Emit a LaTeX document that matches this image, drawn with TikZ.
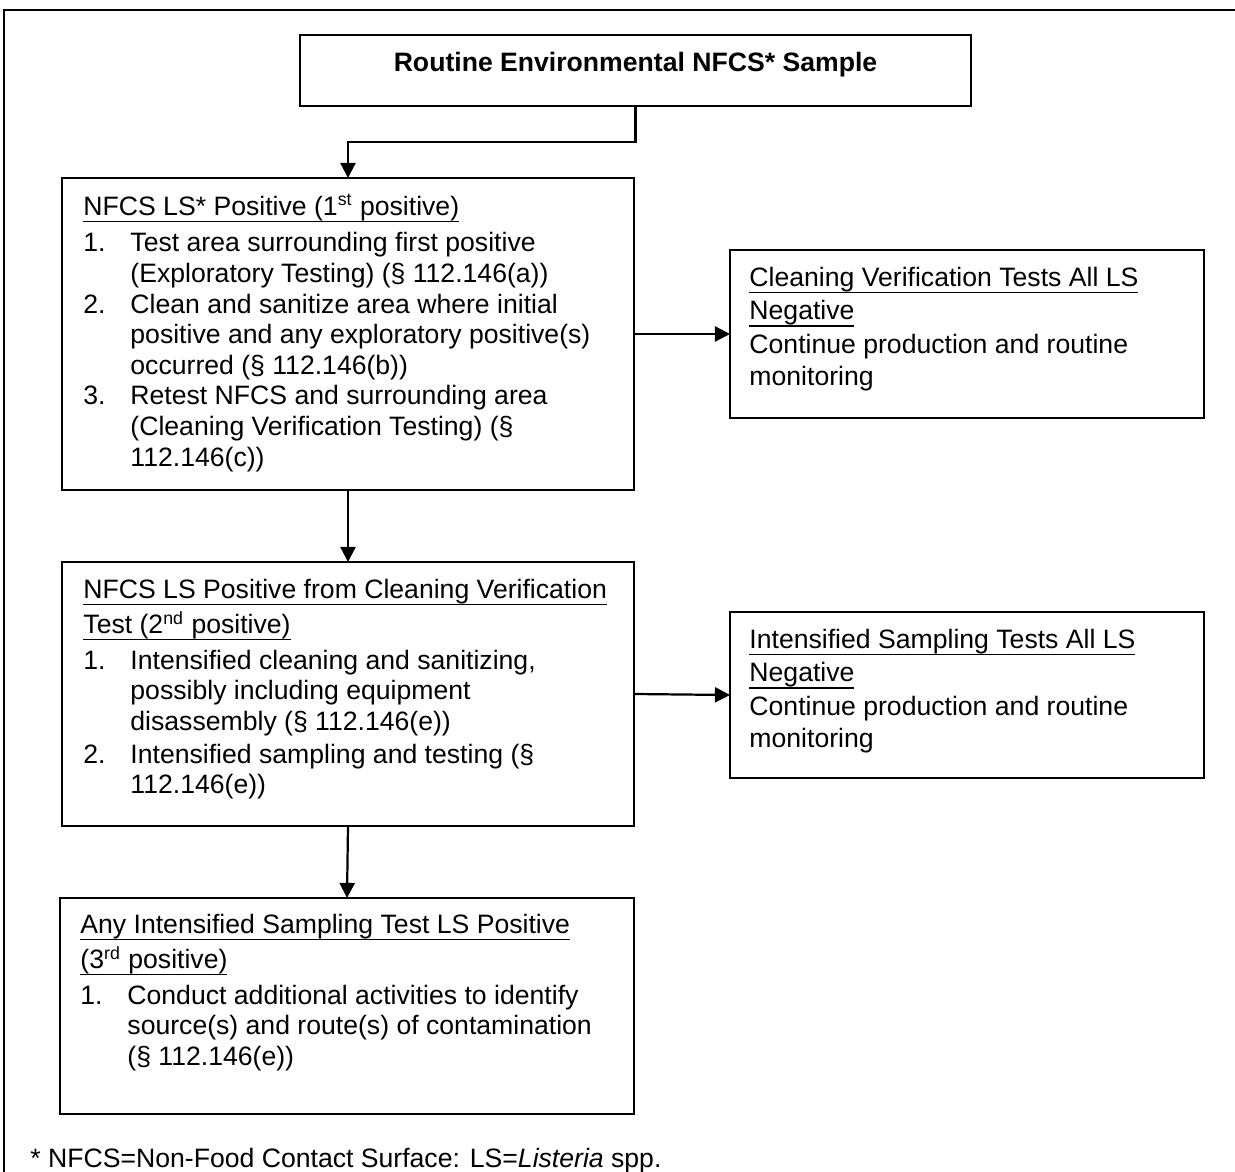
\documentclass[tikz,border=0pt]{standalone}
\usepackage{fontspec}
\setmainfont{Liberation Sans}
\usepackage{tikz}
\usetikzlibrary{
    positioning, % relative placement
    arrows.meta  % arrow tips
}
\tikzset{>={Triangle[length=6.8pt,width=6.8pt]}}

% heavier underline, sitting at descender depth
\newcommand{\ulabel}[1]{\setbox0\hbox{#1}\rlap{\rule[-3pt]{\wd0}{0.75pt}}\box0}

\begin{document}
\begin{tikzpicture}[x=0.451pt, y=-0.451pt,
    flowbox/.style={draw, line width=0.8pt, inner sep=0pt, outer sep=0pt, anchor=north west},
    boxtext/.style={anchor=north west, inner sep=0pt, align=left, font=\fontsize{12}{13.8}\selectfont},
    flowarrow/.style={->, line width=1pt}]
  % simple knobs
  \def\px{0.451pt}  % one pixel of the reference
  \def\ind{21.2pt}  % hanging indent of the numbered items
  \def\W{572}       % width of the left column boxes
  \def\Wr{474}      % width of the right column boxes

  \useasboundingbox (0,0) rectangle (1235,1172);

  % outer frame (runs off at right and bottom)
  \draw[line width=1pt] (4,1172) -- (4,10) -- (1235,10);

  % ===================== BOXES =====================
  \node[flowbox, minimum width=671*\px, minimum height=71*\px]  (top)  at (300,35)  {};
  \node[flowbox, minimum width=\W*\px,  minimum height=312*\px] (pos1) at (62,178)  {};
  \node[flowbox, minimum width=\Wr*\px, minimum height=168*\px] (neg1) at (730,250) {};
  \node[flowbox, minimum width=\W*\px,  minimum height=264*\px] (pos2) at (62,562)  {};
  \node[flowbox, minimum width=\Wr*\px, minimum height=166*\px] (neg2) at (730,612) {};
  \node[flowbox, minimum width=574*\px, minimum height=216*\px] (pos3) at (60,898)  {};

  % ===================== TEXTS =====================
  % title
  \node[boxtext, anchor=base, font=\fontsize{12}{13.8}\selectfont\bfseries] (toptext)
    at ([shift={(0,36.5)}]top.north) {Routine Environmental NFCS* Sample};

  % first positive
  \node[boxtext] (pos1text) at ([shift={(21,16)}]pos1.north west) {%
    \ulabel{NFCS LS* Positive (1\textsuperscript{st} positive)}\\[2.6pt]
    \makebox[\ind][l]{1.}Test area surrounding first positive\\
    \hspace*{\ind}(Exploratory Testing) (§ 112.146(a))\\
    \makebox[\ind][l]{2.}Clean and sanitize area where initial\\
    \hspace*{\ind}positive and any exploratory positive(s)\\
    \hspace*{\ind}occurred (§ 112.146(b))\\
    \makebox[\ind][l]{3.}Retest NFCS and surrounding area\\
    \hspace*{\ind}(Cleaning Verification Testing) (§\\
    \hspace*{\ind}112.146(c))};

  % second positive
  \node[boxtext] (pos2text) at ([shift={(21,17)}]pos2.north west) {%
    \ulabel{NFCS LS Positive from Cleaning Verification}\\[2pt]
    \ulabel{Test (2\textsuperscript{nd} positive)}\\[2.2pt]
    \makebox[\ind][l]{1.}Intensified cleaning and sanitizing,\\
    \hspace*{\ind}possibly including equipment\\
    \hspace*{\ind}disassembly (§ 112.146(e))\\[1pt]
    \makebox[\ind][l]{2.}Intensified sampling and testing (§\\
    \hspace*{\ind}112.146(e))};

  % third positive
  \node[boxtext] (pos3text) at ([shift={(20,16)}]pos3.north west) {%
    \ulabel{Any Intensified Sampling Test LS Positive}\\[2pt]
    \ulabel{(3\textsuperscript{rd} positive)}\\[2.2pt]
    \makebox[\ind][l]{1.}Conduct additional activities to identify\\
    \hspace*{\ind}source(s) and route(s) of contamination\\
    \hspace*{\ind}(§ 112.146(e))};

  % negative outcomes
  \node[boxtext] (neg1text) at ([shift={(19,17)}]neg1.north west) {%
    \ulabel{Cleaning Verification Tests All LS}\\[1.2pt]
    \ulabel{Negative}\\[1.2pt]
    Continue production and routine\\[0.6pt]
    monitoring};
  \node[boxtext] (neg2text) at ([shift={(19,17)}]neg2.north west) {%
    \ulabel{Intensified Sampling Tests All LS}\\[1.2pt]
    \ulabel{Negative}\\[1.2pt]
    Continue production and routine\\[0.6pt]
    monitoring};

  % footnote
  \node[boxtext, anchor=base west] (note) at (30,1167)
    {* NFCS=Non-Food Contact Surface: LS=\textit{Listeria} spp.};

  % ===================== ARROWS =====================
  \draw[flowarrow] (top.south) -- ++(0,36) -| (pos1.north);
  \draw[flowarrow] (pos1.east) -- (neg1.west);
  \draw[flowarrow] (pos1.south) -- (pos2.north);
  \draw[flowarrow] (pos2.east) -- (neg2.west);
  \draw[flowarrow] (pos2.south) -- (pos3.north);
\end{tikzpicture}
\end{document}
